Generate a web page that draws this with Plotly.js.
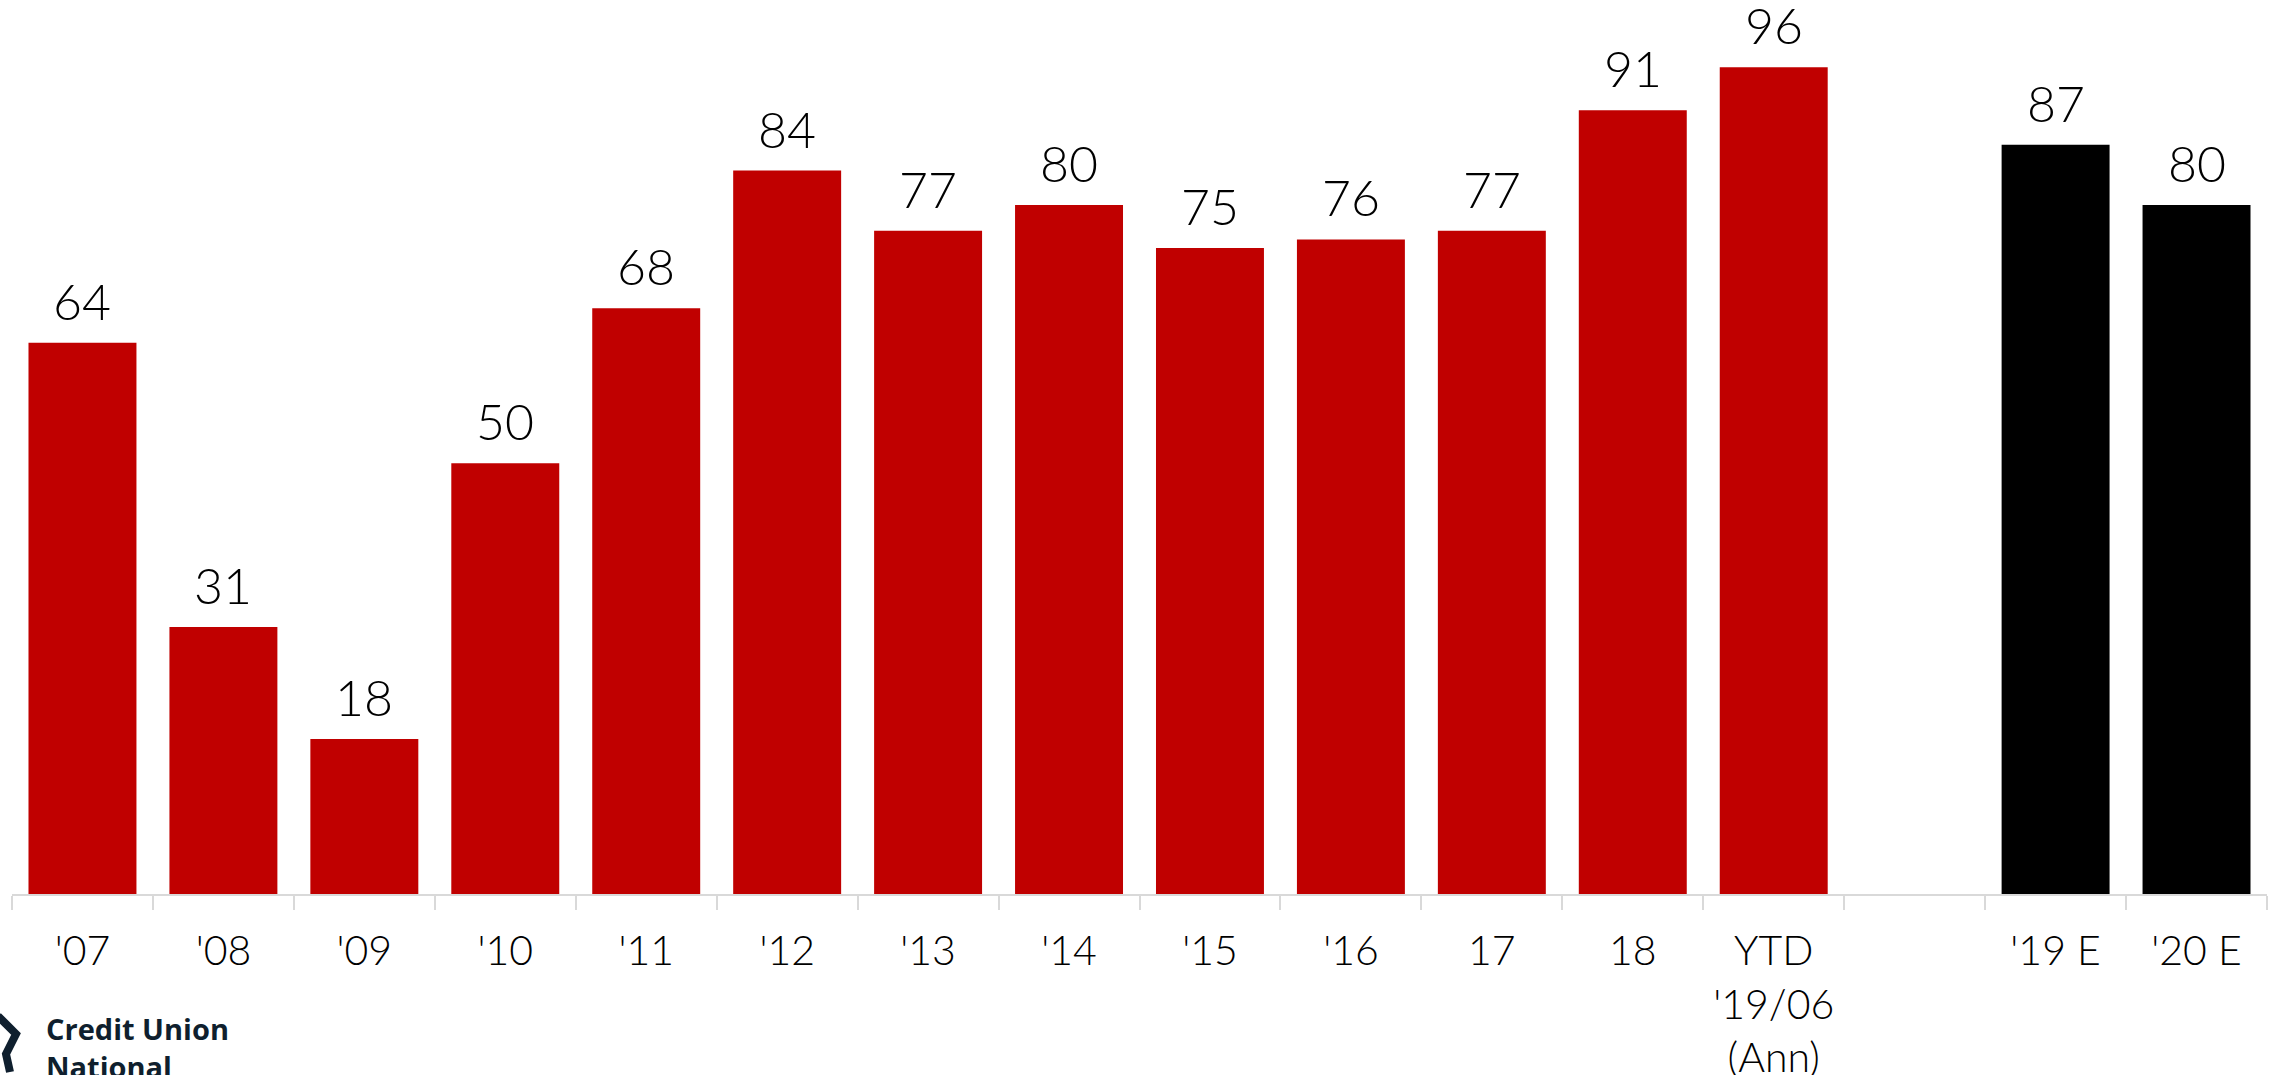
<!DOCTYPE html>
<html>
<head>
<meta charset="utf-8">
<script src="https://cdn.plot.ly/plotly-3.0.1.min.js"></script>
<style>html,body{margin:0;padding:0;background:#fff;}#chart{width:2282px;height:1075px;}</style>
</head>
<body>
<div id="chart"></div>
<script>
// Data
const actualYears = ["'07","'08","'09","'10","'11","'12","'13","'14","'15","'16","17","18","YTD<br>'19/06<br>(Ann)"];
const actualValues = [64, 31, 18, 50, 68, 84, 77, 80, 75, 76, 77, 91, 96];
const gapCategory = [" "];
const forecastYears = ["'19 E", "'20 E"];
const forecastValues = [87, 80];

const allCategories = actualYears.concat(gapCategory, forecastYears);
const labelFont = {family: "Lato, Open Sans, sans-serif", size: 50, color: "#000", weight: 300};

const traces = [
  {
    type: "bar",
    x: actualYears,
    y: actualValues,
    marker: {color: "#C00000", line: {width: 0}},
    hoverinfo: "x+y"
  },
  {
    type: "bar",
    x: gapCategory.concat(forecastYears),
    y: [null].concat(forecastValues),
    marker: {color: "#000000", line: {width: 0}},
    hoverinfo: "x+y"
  }
];

const annotations = [];
actualYears.forEach((c, i) => annotations.push({x: allCategories.indexOf(c), y: actualValues[i], text: String(actualValues[i]), showarrow: false, yanchor: "bottom", yshift: 10, font: labelFont}));
forecastYears.forEach((c, i) => annotations.push({x: allCategories.indexOf(c), y: forecastValues[i], text: String(forecastValues[i]), showarrow: false, yanchor: "bottom", yshift: 10, font: labelFont}));
annotations.push({
  xref: "paper", yref: "paper", x: 0, y: -0.126, xanchor: "left", yanchor: "top", align: "left",
  xshift: 32,
  text: "Credit Union<br>National", showarrow: false,
  font: {family: "Open Sans, Lato, sans-serif", size: 29, color: "#0f1f2e", weight: 700}
});

const layout = {
  width: 2282, height: 1075,
  margin: {l: 12, r: 15, t: 0, b: 181, pad: 0},
  paper_bgcolor: "#fff", plot_bgcolor: "#fff",
  showlegend: false,
  barmode: "overlay",
  bargap: 0.234,
  xaxis: {
    type: "category",
    categoryorder: "array",
    categoryarray: allCategories,
    range: [-0.5, allCategories.length - 0.5],
    showline: true, linecolor: "#d9d9d9", linewidth: 2,
    ticks: "outside", tickson: "boundaries", ticklen: 14, tickcolor: "#d9d9d9", tickwidth: 2,
    tickfont: {family: "Lato, Open Sans, sans-serif", size: 41, color: "#000", weight: 300},
    ticklabelstandoff: 20,
    showgrid: false, zeroline: false, fixedrange: true
  },
  yaxis: {
    range: [0, 103.8],
    visible: false, showgrid: false, zeroline: false, fixedrange: true
  },
  annotations: annotations,
  shapes: [{
    type: "path", xref: "paper", yref: "paper",
    xsizemode: "pixel", ysizemode: "pixel", xanchor: 0, yanchor: 0,
    path: "M -14 -122 L 4 -140 L -6 -160 L -2 -178",
    line: {color: "#0f1f2e", width: 8}
  }]
};

Plotly.newPlot("chart", traces, layout, {displayModeBar: false, staticPlot: true});
</script>
</body>
</html>
